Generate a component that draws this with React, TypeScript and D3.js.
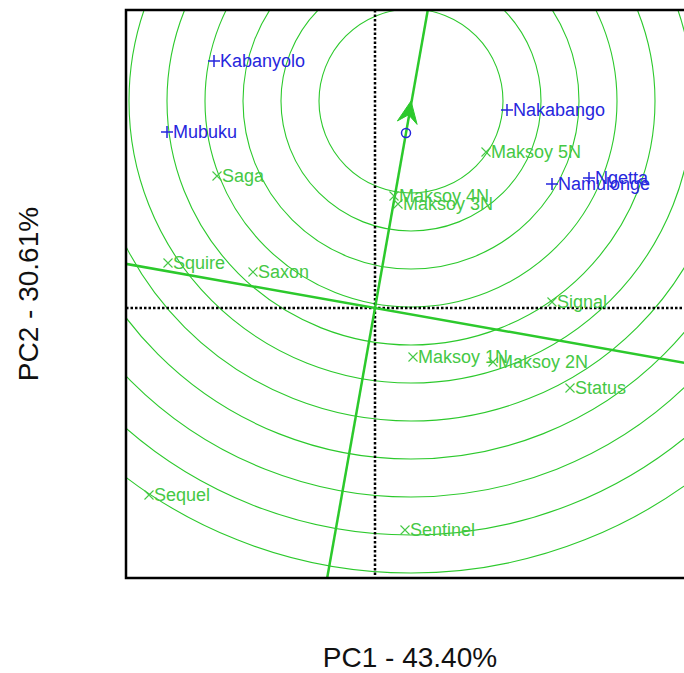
import React from "react";
import * as d3 from "d3";

// environments (locations), blue "+"
const envNames = ["Kabanyolo", "Mubuku", "Nakabango", "Namulonge", "Ngetta"];
const envPC1 = [-1.61, -2.08, 1.32, 1.77, 2.14];
const envPC2 = [2.47, 1.76, 1.98, 1.24, 1.30];

// genotypes (varieties), green "x"
const genoNames = [
  "Saga", "Maksoy 5N", "Maksoy 4N", "Maksoy 3N", "Squire", "Saxon",
  "Signal", "Maksoy 1N", "Maksoy 2N", "Status", "Sequel", "Sentinel",
];
const genoPC1 = [-1.58, 1.11, 0.19, 0.23, -2.07, -1.22, 1.77, 0.38, 1.18, 1.95, -2.26, 0.30];
const genoPC2 = [1.32, 1.56, 1.12, 1.04, 0.45, 0.36, 0.06, -0.49, -0.54, -0.80, -1.87, -2.22];

// average environment and ideal genotype
const meanEnv = [0.31, 1.75];
const ideal = [0.36, 2.07];

// concentric circle radii around the ideal genotype
const circleRadii = [0.92, 1.30, 1.68, 2.06, 2.44, 2.82, 3.20, 3.58, 3.96, 4.34, 4.72];

const xLabel = "PC1 - 43.40%";
const yLabel = "PC2 - 30.61%";

const W = 684;
const H = 673;
const left = 126, right = 694, top = 10, bottom = 578;

const GREEN = "#2cc92c";
const LABEL_GREEN = "#45c845";
const BLUE = "#2626dd";
const FONT = "'Liberation Sans', Arial, sans-serif";

export default function App() {
  const x = d3.scaleLinear().domain([-2.49, 3.19]).range([left, right]);
  const y = d3.scaleLinear().domain([-2.70, 2.98]).range([bottom, top]);
  const pxPerUnit = x(1) - x(0);

  // AEA direction in data space
  const len = Math.hypot(meanEnv[0], meanEnv[1]);
  const ux = meanEnv[0] / len, uy = meanEnv[1] / len;
  const line = d3.line<number[]>().x(d => x(d[0])).y(d => y(d[1]));
  const aea = line([[-10 * ux, -10 * uy], [10 * ux, 10 * uy]]);
  const atc = line([[-10 * uy, 10 * ux], [10 * uy, -10 * ux]]);

  // arrowhead at the ideal point
  const tx = x(ideal[0]), ty = y(ideal[1]);
  const dx = x(ideal[0]) - x(0), dy = y(ideal[1]) - y(0);
  const dl = Math.hypot(dx, dy);
  const ax = dx / dl, ay = dy / dl;
  const px = -ay, py = ax;
  const back = 22, half = 10, notch = 14;
  const head = d3.path();
  head.moveTo(tx, ty);
  head.lineTo(tx - ax * back + px * half, ty - ay * back + py * half);
  head.lineTo(tx - ax * notch, ty - ay * notch);
  head.lineTo(tx - ax * back - px * half, ty - ay * back - py * half);
  head.closePath();

  return (
    <svg width={W} height={H} style={{ position: "absolute", left: 0, top: 0, background: "#fff" }}>
      <defs>
        <clipPath id="plot">
          <rect x={left} y={top} width={right - left} height={bottom - top} />
        </clipPath>
      </defs>
      <g clipPath="url(#plot)">
        {circleRadii.map((r, i) => (
          <circle key={i} cx={x(ideal[0])} cy={y(ideal[1])} r={r * pxPerUnit}
            fill="none" stroke={GREEN} strokeWidth={1.1} />
        ))}
        <line x1={left} x2={right} y1={y(0)} y2={y(0)} stroke="#000" strokeWidth={2.5} strokeDasharray="2.5 2" />
        <line x1={x(0)} x2={x(0)} y1={top} y2={bottom} stroke="#000" strokeWidth={2.5} strokeDasharray="2.5 2" />
        <path d={aea ?? ""} stroke={GREEN} strokeWidth={2.5} fill="none" />
        <path d={atc ?? ""} stroke={GREEN} strokeWidth={2.5} fill="none" />
        <path d={head.toString()} fill={GREEN} stroke={GREEN} strokeWidth={1} />
        <circle cx={x(meanEnv[0])} cy={y(meanEnv[1])} r={4.5} fill="none" stroke={BLUE} strokeWidth={1.5} />

        {genoNames.map((n, i) => {
          const cx = x(genoPC1[i]), cy = y(genoPC2[i]);
          return (
            <g key={n}>
              <path d={`M${cx - 4.5},${cy - 4.5}L${cx + 4.5},${cy + 4.5}M${cx - 4.5},${cy + 4.5}L${cx + 4.5},${cy - 4.5}`}
                stroke={LABEL_GREEN} strokeWidth={1.1} />
              <text x={cx + 5} y={cy} dy="0.35em" fill={LABEL_GREEN} fontSize={18} fontFamily={FONT}>{n}</text>
            </g>
          );
        })}
        {envNames.map((n, i) => {
          const cx = x(envPC1[i]), cy = y(envPC2[i]);
          return (
            <g key={n}>
              <path d={`M${cx - 6},${cy}L${cx + 6},${cy}M${cx},${cy - 6}L${cx},${cy + 6}`}
                stroke={BLUE} strokeWidth={1.5} />
              <text x={cx + 6} y={cy} dy="0.35em" fill={BLUE} fontSize={18} fontFamily={FONT}>{n}</text>
            </g>
          );
        })}
      </g>
      <rect x={left} y={top} width={right - left} height={bottom - top} fill="none" stroke="#000" strokeWidth={2.5} />

      <text x={(left + right) / 2} y={667} textAnchor="middle" fontSize={28} fontFamily={FONT} fill="#111">{xLabel}</text>
      <text transform={`translate(38,${(top + bottom) / 2}) rotate(-90)`} textAnchor="middle" fontSize={28}
        fontFamily={FONT} fill="#111">{yLabel}</text>
    </svg>
  );
}
